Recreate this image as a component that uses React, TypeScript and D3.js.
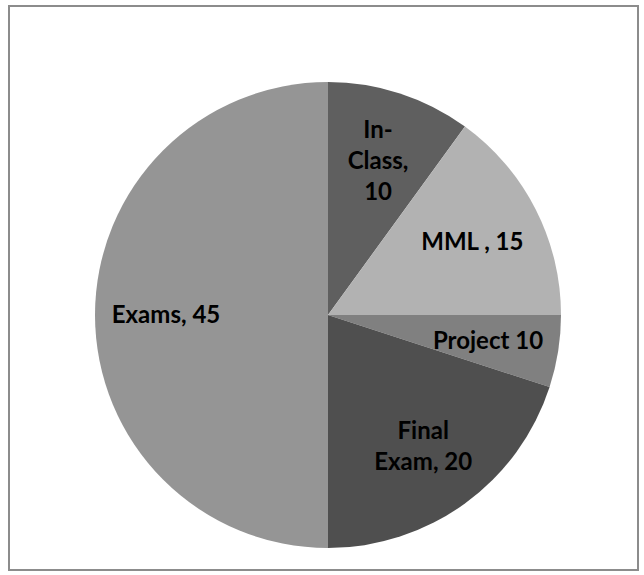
import React, { useEffect, useRef } from 'react';
import * as d3 from 'd3';

const categories = ['In-Class', 'MML', 'Project', 'Final Exam', 'Exams'];
const values = [10, 15, 5, 20, 50];
const labelLines = [['In-', 'Class,', '10'], ['MML , 15'], ['Project 10'], ['Final', 'Exam, 20'], ['Exams, 45']];
const colors = ['#5f5f5f', '#b2b2b2', '#808080', '#4f4f4f', '#959595'];

const App: React.FC = () => {
  const ref = useRef<SVGSVGElement | null>(null);

  useEffect(() => {
    document.body.style.margin = '0';
    const svg = d3.select(ref.current);
    const width = 644;
    const height = 575;
    const cx = 328;
    const cy = 315;
    const radius = 233;

    svg.selectAll('*').remove();
    svg.attr('width', width).attr('height', height);

    svg
      .append('rect')
      .attr('x', 9)
      .attr('y', 6)
      .attr('width', 629)
      .attr('height', 564)
      .attr('fill', '#fff')
      .attr('stroke', '#8c8c8c')
      .attr('stroke-width', 2);

    const data = categories.map((c, i) => ({ name: c, value: values[i], lines: labelLines[i], color: colors[i] }));

    const pie = d3.pie<any>().value(d => d.value).sort(null);
    const arc = d3.arc<any>().innerRadius(0).outerRadius(radius);
    const labelArc = d3.arc<any>().innerRadius(162).outerRadius(162);

    const g = svg.append('g').attr('transform', `translate(${cx},${cy})`);
    const arcs = pie(data);

    g.selectAll('path')
      .data(arcs)
      .join('path')
      .attr('d', arc)
      .attr('fill', d => d.data.color);

    const lineH = 31;
    const labels = g
      .selectAll('text')
      .data(arcs)
      .join('text')
      .attr('text-anchor', 'middle')
      .attr('font-family', 'Lato, "Open Sans", sans-serif')
      .attr('font-weight', 'bold')
      .attr('font-size', 24)
      .attr('fill', '#000')
      .attr('transform', d => {
        const [x, y] = labelArc.centroid(d);
        return `translate(${x},${y})`;
      });

    labels.each(function (d: any) {
      const n = d.data.lines.length;
      d3.select(this)
        .selectAll('tspan')
        .data(d.data.lines)
        .join('tspan')
        .attr('x', 0)
        .attr('y', (_: any, i: number) => (i - (n - 1) / 2) * lineH)
        .attr('dy', '0.35em')
        .text((t: any) => t);
    });
  }, []);

  return <svg ref={ref}></svg>;
};

export default App;
